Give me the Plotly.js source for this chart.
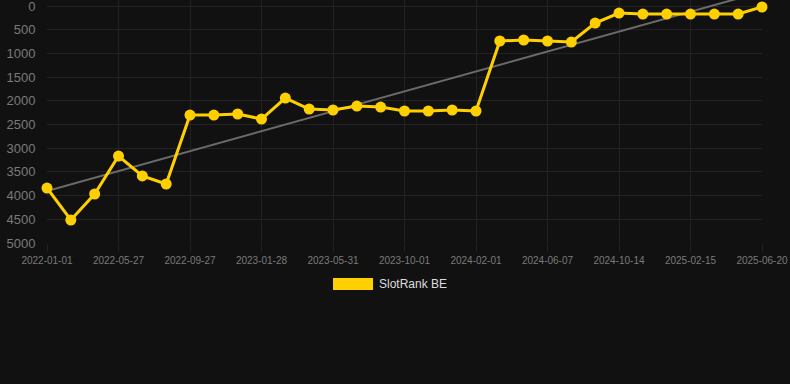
<!DOCTYPE html>
<html>
<head>
<meta charset="utf-8">
<script src="https://cdn.plot.ly/plotly-3.0.1.min.js"></script>
<style>
html,body{margin:0;padding:0;background:#111111;}
#chart{width:790px;height:384px;}
</style>
</head>
<body>
<div id="chart"></div>
<script>
const dates = [
  "2022-01-01","2022-02-19","2022-04-08","2022-05-27","2022-07-07","2022-08-17",
  "2022-09-27","2022-11-07","2022-12-18","2023-01-28","2023-03-10","2023-04-20",
  "2023-05-31","2023-07-11","2023-08-21","2023-10-01","2023-11-11","2023-12-22",
  "2024-02-01","2024-03-13","2024-04-25","2024-06-07","2024-07-20","2024-08-31",
  "2024-10-14","2024-11-24","2025-01-04","2025-02-15","2025-03-28","2025-05-09",
  "2025-06-20"
];
const ranks = [
  3840, 4515, 3966, 3165, 3586, 3755,
  2300, 2300, 2278, 2384, 1941, 2173,
  2194, 2110, 2131, 2215, 2215, 2194,
  2215, 738, 717, 738, 760, 359,
  148, 169, 169, 169, 169, 169,
  21
];
const tickDates = ["2022-01-01","2022-05-27","2022-09-27","2023-01-28","2023-05-31","2023-10-01","2024-02-01","2024-06-07","2024-10-14","2025-02-15","2025-06-20"];
const yTicks = [0,500,1000,1500,2000,2500,3000,3500,4000,4500,5000];
const trendX = ["2022-01-01","2025-06-20"];
const trendY = [3903, -300];
const seriesName = "SlotRank BE";

const gold = "#FFD000";
const grid = "#222222";
const font = "Liberation Sans, Arial, sans-serif";

const traces = [
  {
    x: trendX, y: trendY, type: "scatter", mode: "lines",
    line: {color: "#6b6b6b", width: 2}, hoverinfo: "skip", showlegend: false
  },
  {
    x: dates, y: ranks, type: "scatter", mode: "lines+markers", name: seriesName,
    line: {color: gold, width: 3},
    marker: {color: gold, size: 11},
    cliponaxis: false, showlegend: false
  }
];

const layout = {
  width: 790, height: 384,
  paper_bgcolor: "#111111", plot_bgcolor: "#111111",
  margin: {l: 47, r: 28, t: 0, b: 141},
  font: {family: font, color: "#7a7a7a"},
  showlegend: false,
  xaxis: {
    type: "category", categoryorder: "array", categoryarray: dates,
    range: [0, dates.length - 1],
    tickmode: "array", tickvals: tickDates, ticktext: tickDates,
    tickfont: {size: 10, color: "#7a7a7a"},
    showgrid: true, gridcolor: grid, gridwidth: 1,
    ticks: "outside", ticklen: 8, tickcolor: grid,
    zeroline: false, showline: false, fixedrange: true,
    ticklabeloverflow: "allow"
  },
  yaxis: {
    range: [5000, -127],
    tickmode: "array", tickvals: yTicks, ticktext: yTicks.map(String),
    tickfont: {size: 13, color: "#7a7a7a"},
    showgrid: true, gridcolor: grid, gridwidth: 1,
    ticks: "outside", ticklen: 8, tickcolor: "rgba(0,0,0,0)",
    zeroline: false, showline: false, fixedrange: true,
    ticklabeloverflow: "allow"
  },
  shapes: [
    {type: "rect", xref: "paper", yref: "paper",
     x0: 0.4, x1: 0.456, y0: -0.193, y1: -0.144,
     fillcolor: gold, line: {width: 0}}
  ],
  annotations: [
    {xref: "paper", yref: "paper", x: 0.4615, y: -0.169,
     xanchor: "left", yanchor: "middle", showarrow: false,
     text: seriesName, font: {family: font, size: 12, color: "#dddddd"}}
  ]
};

Plotly.newPlot("chart", traces, layout, {displayModeBar: false, staticPlot: true});
</script>
</body>
</html>
